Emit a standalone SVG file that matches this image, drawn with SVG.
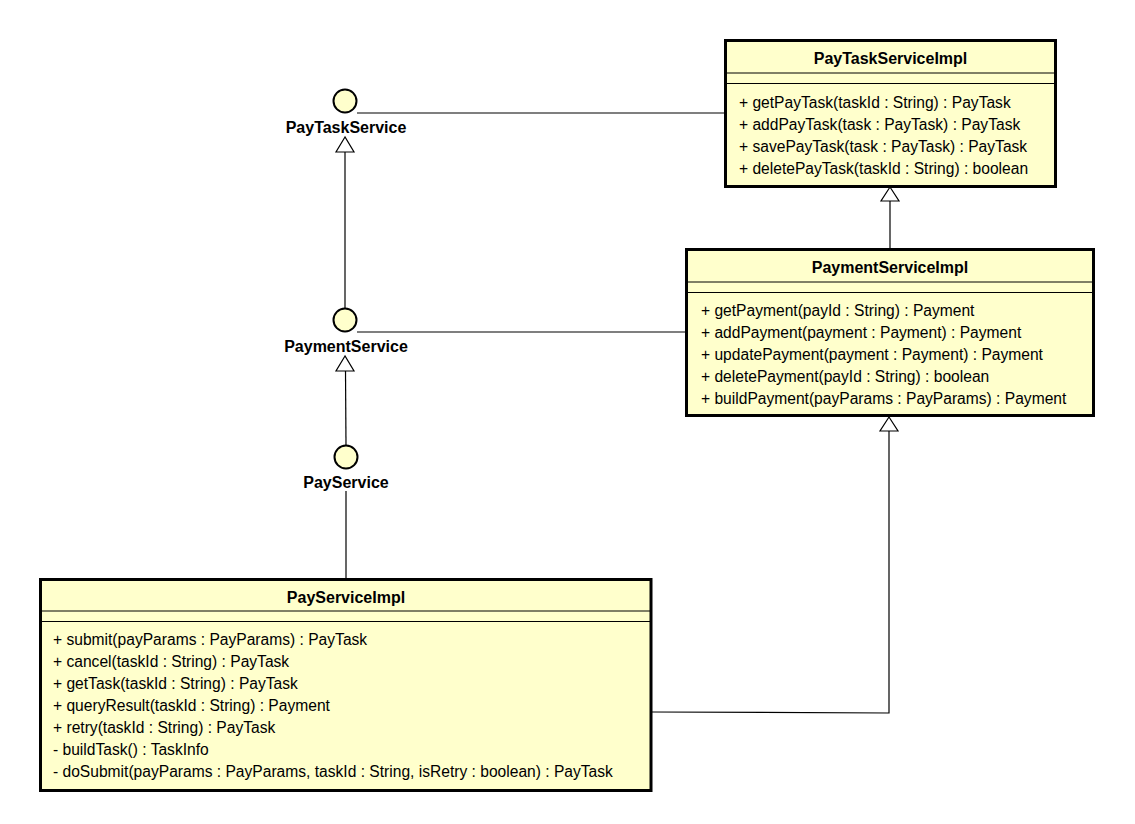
<svg xmlns="http://www.w3.org/2000/svg" width="1135" height="824" viewBox="0 0 1135 824">
<style>
.box{fill:#FFFFCC;stroke:#000;stroke-width:3}
.sep{stroke:#000;stroke-width:1}
.ttl{font-family:"Liberation Sans",Arial,sans-serif;font-size:16px;font-weight:bold;text-anchor:middle;fill:#000}
.m{font-family:"Liberation Sans",Arial,sans-serif;font-size:15.6px;fill:#000}
.ifc{fill:#FFFFCC;stroke:#000;stroke-width:2}
.lbl{font-family:"Liberation Sans",Arial,sans-serif;font-size:16px;font-weight:bold;text-anchor:middle;fill:#000}
.ln{fill:none;stroke:#000;stroke-width:1.2}
.tri{fill:#fff;stroke:#000;stroke-width:1.2}
</style>
<rect width="1135" height="824" fill="#fff"/>
<g id="connectors">
<line class="ln" x1="357" y1="113" x2="725" y2="113"/>
<line class="ln" x1="357" y1="332" x2="686" y2="332"/>
<line class="ln" x1="345" y1="152" x2="345" y2="308"/>
<polygon class="tri" points="345,137 336,152 354,152"/>
<line class="ln" x1="345.5" y1="371" x2="346" y2="446"/>
<polygon class="tri" points="345,356 336,371 354,371"/>
<line class="ln" x1="346" y1="491" x2="346" y2="579"/>
<line class="ln" x1="890" y1="201" x2="890" y2="249"/>
<polygon class="tri" points="890,187 881,201 899,201"/>
<polyline class="ln" points="652,712 889,713 889,431"/>
<polygon class="tri" points="889,417 880,431 898,431"/>
</g>
<g id="PayTaskService">
<circle class="ifc" cx="345" cy="101" r="11.5"/>
<text class="lbl" x="346" y="133">PayTaskService</text>
</g>
<g id="PaymentService">
<circle class="ifc" cx="345" cy="320" r="11.5"/>
<text class="lbl" x="346" y="352">PaymentService</text>
</g>
<g id="PayService">
<circle class="ifc" cx="346" cy="457" r="11.5"/>
<text class="lbl" x="346" y="488">PayService</text>
</g>
<g id="PayTaskServiceImpl">
<rect class="box" x="725.5" y="40.5" width="330" height="146"/>
<line class="sep" x1="725.5" y1="73" x2="1055.5" y2="73"/>
<line class="sep" x1="725.5" y1="83.5" x2="1055.5" y2="83.5"/>
<text class="ttl" x="890.5" y="64">PayTaskServiceImpl</text>
<text class="m" x="739" y="107.5">+ getPayTask(taskId : String) : PayTask</text>
<text class="m" x="739" y="129.5">+ addPayTask(task : PayTask) : PayTask</text>
<text class="m" x="739" y="151.5">+ savePayTask(task : PayTask) : PayTask</text>
<text class="m" x="739" y="173.5">+ deletePayTask(taskId : String) : boolean</text>
</g>
<g id="PaymentServiceImpl">
<rect class="box" x="686.5" y="249.5" width="407" height="166"/>
<line class="sep" x1="686.5" y1="282" x2="1093.5" y2="282"/>
<line class="sep" x1="686.5" y1="292.5" x2="1093.5" y2="292.5"/>
<text class="ttl" x="890" y="273">PaymentServiceImpl</text>
<text class="m" x="701" y="315.5">+ getPayment(payId : String) : Payment</text>
<text class="m" x="701" y="337.5">+ addPayment(payment : Payment) : Payment</text>
<text class="m" x="701" y="359.5">+ updatePayment(payment : Payment) : Payment</text>
<text class="m" x="701" y="381.5">+ deletePayment(payId : String) : boolean</text>
<text class="m" x="701" y="403.5">+ buildPayment(payParams : PayParams) : Payment</text>
</g>
<g id="PayServiceImpl">
<rect class="box" x="40.5" y="579.5" width="610.5" height="211"/>
<line class="sep" x1="40.5" y1="611" x2="651" y2="611"/>
<line class="sep" x1="40.5" y1="621.5" x2="651" y2="621.5"/>
<text class="ttl" x="346" y="603">PayServiceImpl</text>
<text class="m" x="53" y="645">+ submit(payParams : PayParams) : PayTask</text>
<text class="m" x="53" y="667">+ cancel(taskId : String) : PayTask</text>
<text class="m" x="53" y="689">+ getTask(taskId : String) : PayTask</text>
<text class="m" x="53" y="711">+ queryResult(taskId : String) : Payment</text>
<text class="m" x="53" y="733">+ retry(taskId : String) : PayTask</text>
<text class="m" x="53" y="755">- buildTask() : TaskInfo</text>
<text class="m" x="53" y="777">- doSubmit(payParams : PayParams, taskId : String, isRetry : boolean) : PayTask</text>
</g>
</svg>
